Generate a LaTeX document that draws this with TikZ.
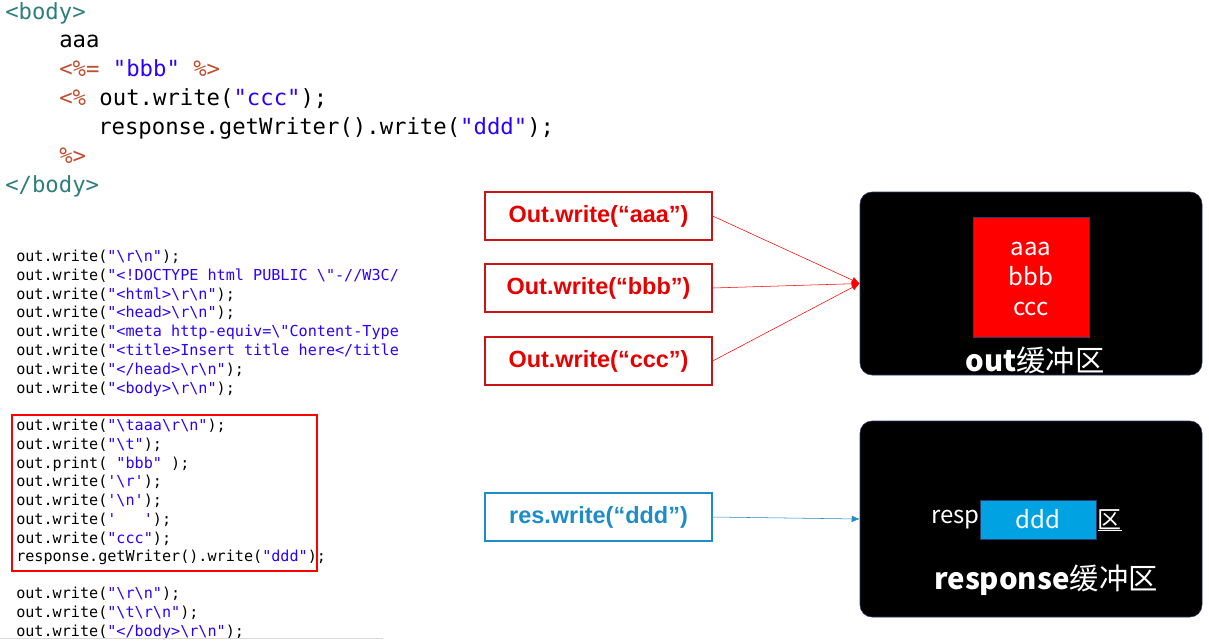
\documentclass[tikz,border=0pt]{standalone}
\usepackage{fontspec}
\usepackage{xcolor}
\usetikzlibrary{arrows.meta}
\setmainfont{Liberation Sans}
\newfontfamily\codefont{DejaVu Sans Mono}
\newfontfamily\cjk{Noto Sans CJK SC}
\definecolor{tagteal}{RGB}{47,125,125}
\definecolor{jspbrown}{RGB}{191,79,47}
\definecolor{strblue}{RGB}{42,0,255}
\definecolor{boxred}{RGB}{200,20,20}
\definecolor{txtred}{RGB}{230,0,0}
\definecolor{resblue}{RGB}{30,140,200}
\definecolor{dddblue}{RGB}{0,162,226}
\definecolor{bufedge}{RGB}{40,60,110}
\newcommand\bs{\textbackslash}
\newcommand\js[1]{\textcolor{strblue}{#1}}
\newcommand\jsp[1]{\textcolor{jspbrown}{#1}}

\begin{document}
\begin{tikzpicture}[x=0.75pt,y=-0.75pt,
	codebig/.style={anchor=base west, inner sep=0pt, font=\codefont\fontsize{16.7}{20}\selectfont},
	codesmall/.style={anchor=base west, inner sep=0pt, font=\codefont\fontsize{11.35}{14}\selectfont},
	callbox/.style={draw=boxred, line width=1.2pt, text=txtred, minimum width=170pt, minimum height=36pt, font=\bfseries\fontsize{17.6}{20}\selectfont},
	buf/.style={draw=bufedge, fill=black, rounded corners=9pt, minimum width=256.5pt},
	buftext/.style={text=white, font=\cjk\fontsize{18}{22.5}\selectfont, align=center},
	buflabel/.style={text=white, font=\cjk\fontsize{22}{24}\selectfont},
	arr/.style={-{Latex[length=6pt,width=5pt]}}]
	\useasboundingbox (0,0) rectangle (1209,643);

	\node[codebig] (t1) at (5,19) {\textcolor{tagteal}{<body>}};
	\node[codebig] (t2) at (59,47) {aaa};
	\node[codebig] (t3) at (59,76) {\jsp{<\%=} \js{"bbb"} \jsp{\%>}};
	\node[codebig] (t4) at (59,105) {\jsp{<\%} out.write(\js{"ccc"});};
	\node[codebig] (t5) at (98,134) {response.getWriter().write(\js{"ddd"});};
	\node[codebig] (t6) at (59,163) {\jsp{\%>}};
	\node[codebig] (t7) at (5,192) {\textcolor{tagteal}{</body>}};

	\node[codesmall] (a1) at (16,261) {out.write(\js{"\bs r\bs n"});};
	\node[codesmall] (a2) at (16,280) {out.write(\js{"<!DOCTYPE html PUBLIC \bs"-//W3C/}};
	\node[codesmall] (a3) at (16,299) {out.write(\js{"<html>\bs r\bs n"});};
	\node[codesmall] (a4) at (16,317) {out.write(\js{"<head>\bs r\bs n"});};
	\node[codesmall] (a5) at (16,336) {out.write(\js{"<meta http-equiv=\bs"Content-Type}};
	\node[codesmall] (a6) at (16,355) {out.write(\js{"<title>Insert title here</title}};
	\node[codesmall] (a7) at (16,374) {out.write(\js{"</head>\bs r\bs n"});};
	\node[codesmall] (a8) at (16,393) {out.write(\js{"<body>\bs r\bs n"});};

	\draw[red, line width=1.1pt] (12,415) rectangle (317,571);
	\node[codesmall] (b1) at (16,430) {out.write(\js{"\bs taaa\bs r\bs n"});};
	\node[codesmall] (b2) at (16,449) {out.write(\js{"\bs t"});};
	\node[codesmall] (b3) at (16,468) {out.print( \js{"bbb"} );};
	\node[codesmall] (b4) at (16,486) {out.write(\js{'\bs r'});};
	\node[codesmall] (b5) at (16,505) {out.write(\js{'\bs n'});};
	\node[codesmall] (b6) at (16,524) {out.write(\js{'\ \ \ '});};
	\node[codesmall] (b7) at (16,543) {out.write(\js{"ccc"});};
	\node[codesmall] (b8) at (16,561) {response.getWriter().write(\js{"ddd"});};

	\node[codesmall] (c1) at (16,598) {out.write(\js{"\bs r\bs n"});};
	\node[codesmall] (c2) at (16,617) {out.write(\js{"\bs t\bs r\bs n"});};
	\node[codesmall] (c3) at (16,636) {out.write(\js{"</body>\bs r\bs n"});};
	\draw[black!15] (0,638.5) -- (383,638.5);

	\node[callbox] (w1) at (598.5,216) {Out.write(“aaa”)};
	\node[callbox] (w2) at (598.5,288) {Out.write(“bbb”)};
	\node[callbox] (w3) at (598.5,361) {Out.write(“ccc”)};
	\node[callbox, draw=resblue, text=resblue] (rw) at (598.5,517) {res.write(“ddd”)};

	\node[buf, minimum height=137.25pt] (outbuf) at (1031,283.5) {};
	\node[draw=bufedge, fill=red, minimum width=87pt, minimum height=90pt] (outdata) at (1031,277) {};
	\node[buftext] (outtxt) at (1031,279) {aaa\\bbb\\ccc};
	\node[buflabel] (outlbl) at (1035,360) {\textbf{out}缓冲区};

	\node[buf, minimum height=147pt] (resbuf) at (1031,519) {};
	\node[buftext, draw=bufedge, fill=dddblue, minimum width=87pt, minimum height=29.25pt] (resdata) at (1038,519.5) {ddd};
	\node[buftext, anchor=east, inner sep=0pt] (resleft) at (resdata.west) {resp};
	\node[buftext, anchor=west, inner sep=0pt] (resright) at ([xshift=1pt]resdata.east) {区};
	\draw[white] (resright.south west) -- (resright.south east);
	\node[buflabel] (reslbl) at (1046,580) {\textbf{response}缓冲区};

	\draw[red, arr] (w1.east) -- (outbuf.west);
	\draw[red, arr] (w2.east) -- (outbuf.west);
	\draw[red, arr] (w3.east) -- (outbuf.west);
	\draw[resblue, arr] (rw.east) -- (resbuf.west);
\end{tikzpicture}
\end{document}
